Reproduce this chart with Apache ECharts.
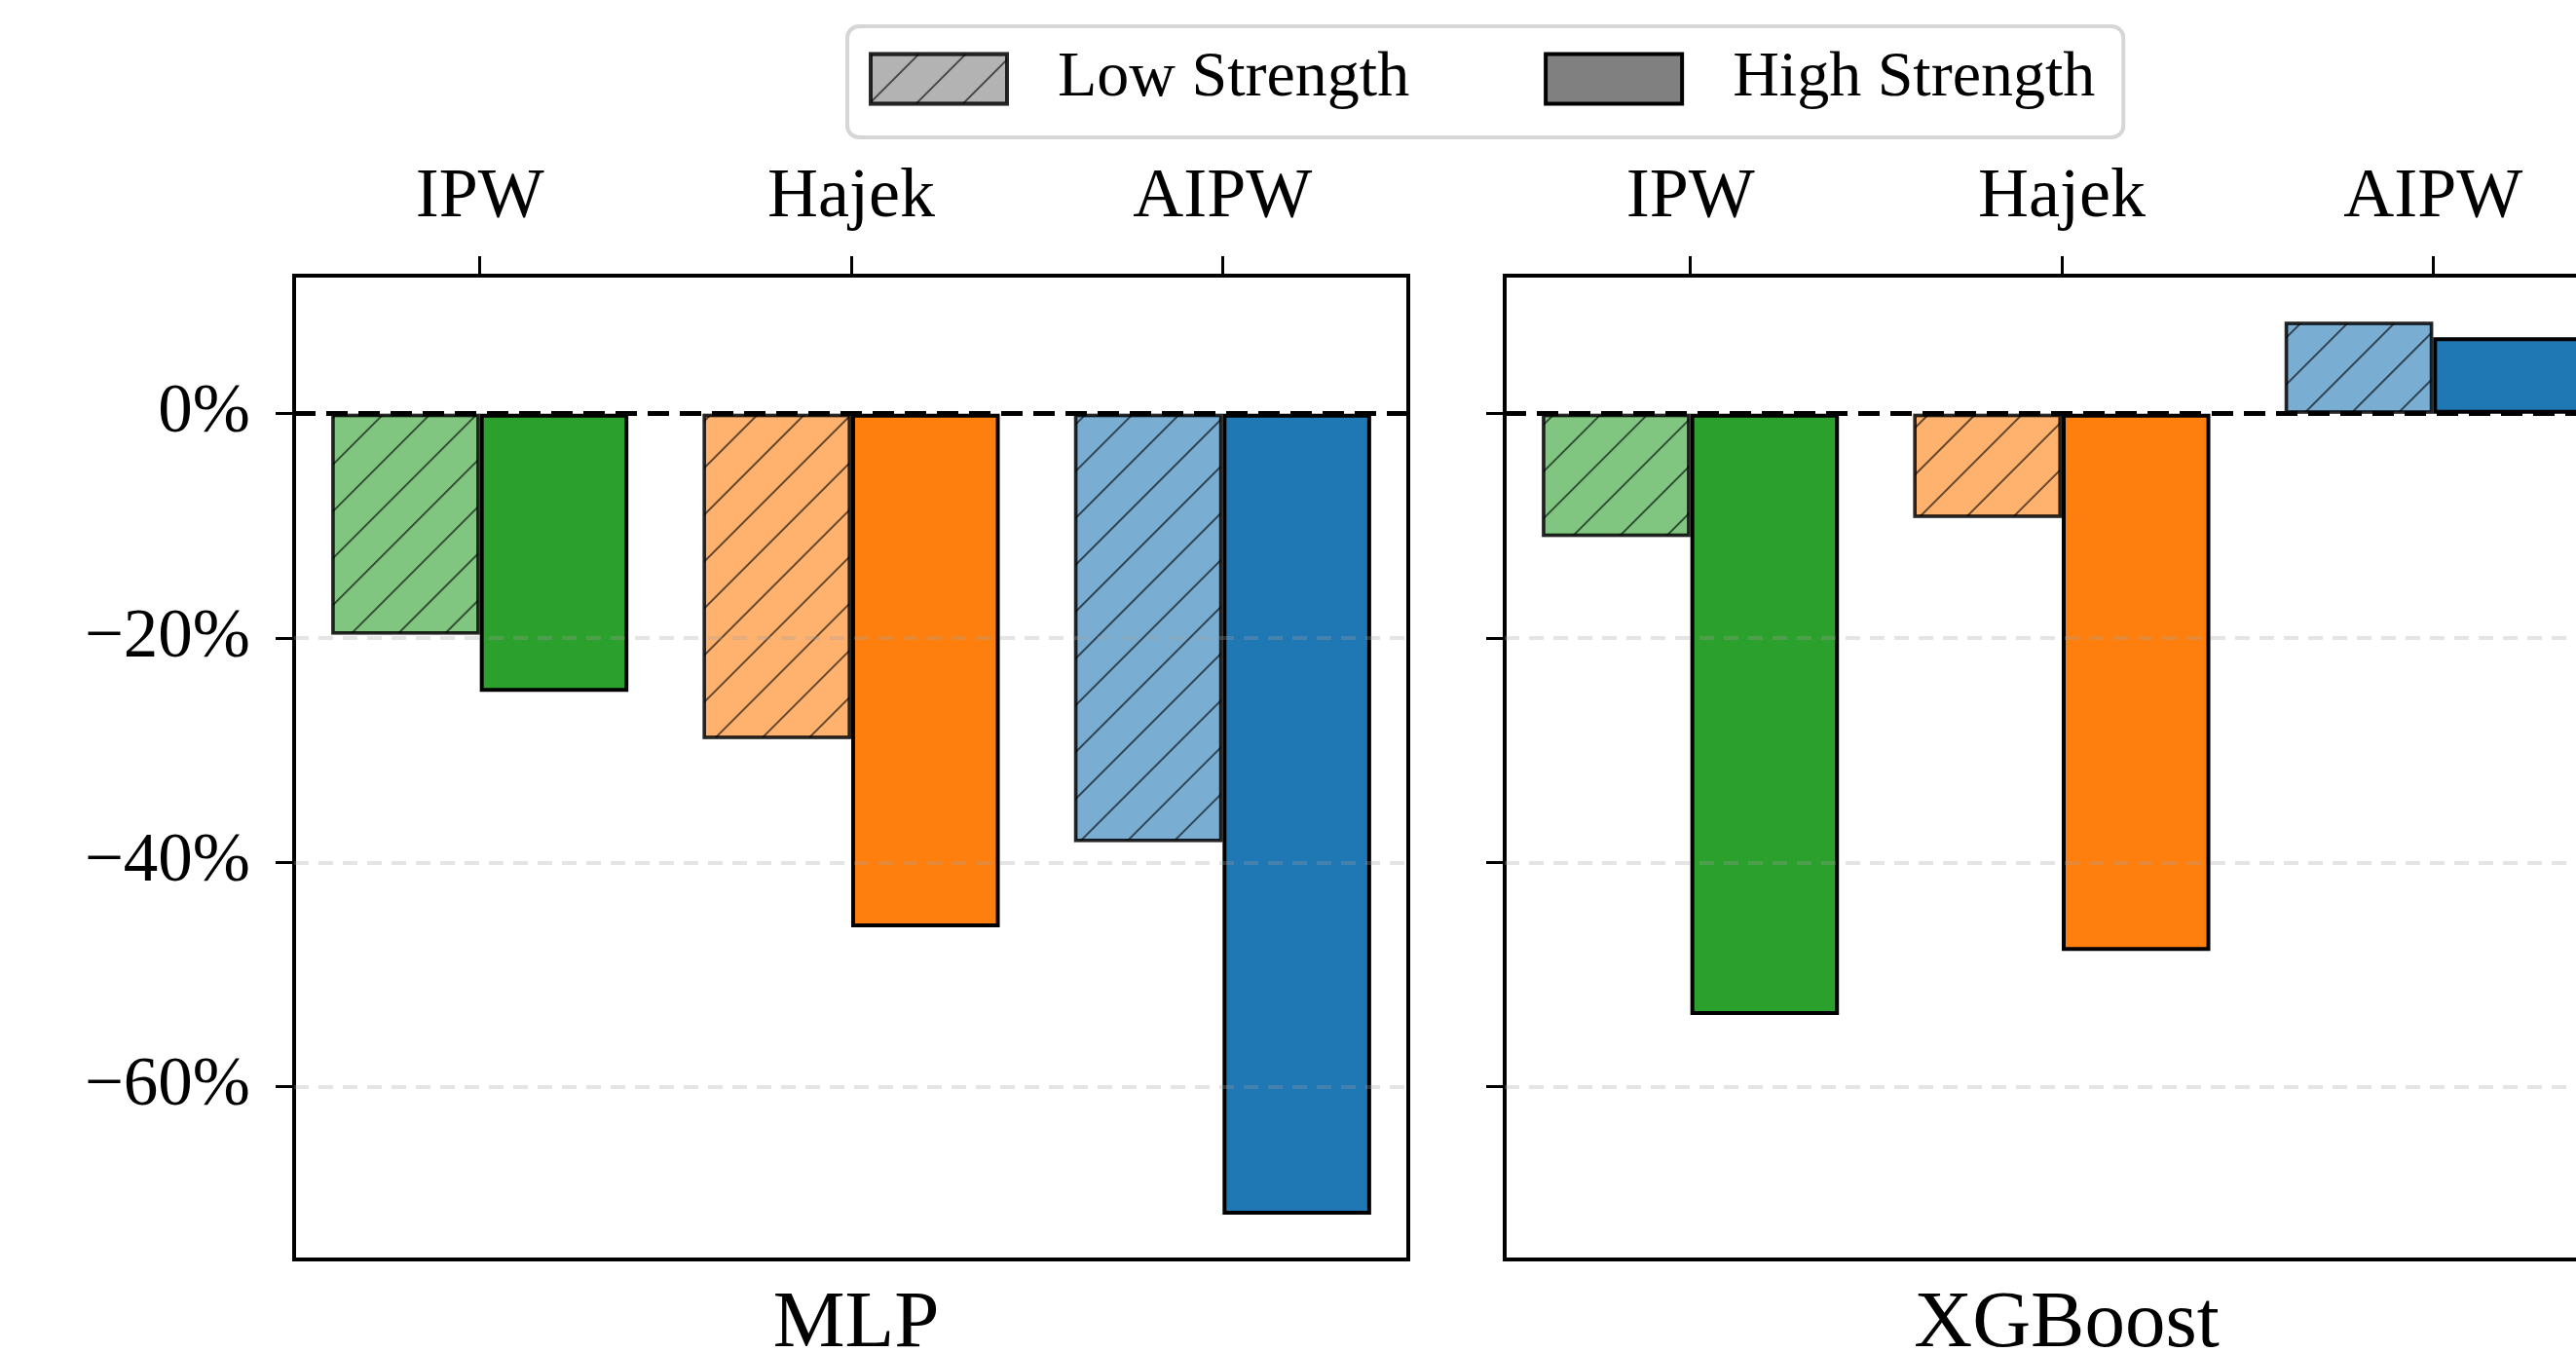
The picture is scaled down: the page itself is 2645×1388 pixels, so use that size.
<!DOCTYPE html>
<html><head><meta charset="utf-8">
<script src="https://cdn.jsdelivr.net/npm/echarts@6/dist/echarts.min.js"></script>
<style>html,body{margin:0;padding:0;background:#fff;} #c{width:2645px;height:1388px;}</style>
</head><body><div id="c"></div>
<script>
// ---- data ----
const categories = ['IPW', 'Hajek', 'AIPW'];
const models = ['MLP', 'XGBoost'];
const mlpLow = [-19.7, -29.0, -38.2];
const mlpHigh = [-24.8, -45.8, -71.4];
const xgbLow = [-11.0, -9.3, 8.2];
const xgbHigh = [-53.6, -47.9, 6.8];
const tickValues = [0, -20, -40, -60];
const tickLabels = ['0%', '−20%', '−40%', '−60%'];
const gridValues = [-20, -40, -60];
const legendNames = ['Low Strength', 'High Strength'];

// ---- style ----
const highColors = ['#2ca02c', '#ff7f0e', '#1f77b4'];
const lowColors = ['#80c680', '#ffb26e', '#79add2'];
const FONT = 'Liberation Serif';
const yMin = -75.4, yMax = 12.3;
const panels = [{left: 302}, {left: 1545}];
const PW = 1144, PTOP = 283, PH = 1010;

const hatch = {
  symbol: 'rect', symbolSize: 1,
  dashArrayX: [1, 0], dashArrayY: [2, 32],
  rotation: -Math.PI / 4,
  color: 'rgba(0,0,0,0.6)'
};

const lowSets = [mlpLow, xgbLow];
const highSets = [mlpHigh, xgbHigh];

function labelFor(v) {
  for (let i = 0; i < tickValues.length; i++) if (Math.abs(v - tickValues[i]) < 1e-6) return tickLabels[i];
  return '';
}

const series = [];
[0, 1].forEach(g => {
  series.push({
    type: 'bar', name: legendNames[0], xAxisIndex: g, yAxisIndex: g,
    barWidth: '40%', barGap: '0%',
    itemStyle: {borderColor: 'rgba(0,0,0,0.6)', borderWidth: 3.5, decal: hatch},
    data: lowSets[g].map((v, i) => ({value: v, itemStyle: {color: lowColors[i]}})),
    markLine: {
      silent: true, symbol: ['none', 'none'], label: {show: false},
      lineStyle: {color: 'rgba(160,160,160,0.28)', width: 4, type: [15, 10]},
      emphasis: {disabled: true},
      data: gridValues.map(v => ({yAxis: v}))
    }
  });
  series.push({
    type: 'bar', name: legendNames[1], xAxisIndex: g, yAxisIndex: g,
    barWidth: '40%', barGap: '0%',
    itemStyle: {borderColor: '#000', borderWidth: 4},
    data: highSets[g].map((v, i) => ({value: v, itemStyle: {color: highColors[i]}})),
    markLine: {
      silent: true, symbol: ['none', 'none'], label: {show: false},
      lineStyle: {color: '#000', width: 5, type: [22, 11]},
      emphasis: {disabled: true},
      data: [{yAxis: 0}]
    }
  });
});

const option = {
  animation: false,
  backgroundColor: '#fff',
  title: models.map((m, g) => ({
    text: m, left: panels[g].left + PW / 2, top: 1314, textAlign: 'center',
    textStyle: {fontFamily: FONT, fontSize: 83, fontWeight: 'normal', color: '#000'}
  })),
  legend: {
    left: 870, top: 27,
    padding: [21, 29, 27, 22],
    itemWidth: 140, itemHeight: 51, itemGap: 138,
    backgroundColor: '#fff', borderColor: '#d6d6d6', borderWidth: 4, borderRadius: 12,
    textStyle: {fontFamily: FONT, fontSize: 66, color: '#000', padding: [0, 0, 0, 47], lineHeight: 66},
    data: [
      {name: legendNames[0], icon: 'rect', itemStyle: {color: '#b3b3b3', borderColor: 'rgba(0,0,0,0.6)', borderWidth: 4, decal: hatch}},
      {name: legendNames[1], icon: 'rect', itemStyle: {color: '#808080', borderColor: '#000', borderWidth: 4}}
    ]
  },
  grid: panels.map(p => ({
    left: p.left, top: PTOP, width: PW, height: PH,
    show: true, borderColor: '#000', borderWidth: 4, backgroundColor: 'transparent',
    containLabel: false, outerBoundsMode: 'none'
  })),
  xAxis: [0, 1].map(g => ({
    gridIndex: g, type: 'category', data: categories, position: 'top',
    axisLine: {show: false, onZero: false},
    axisTick: {show: true, alignWithLabel: true, length: 20, lineStyle: {color: '#000', width: 3}},
    axisLabel: {fontFamily: FONT, fontSize: 72, color: '#000', margin: 44},
    splitLine: {show: false}
  })),
  yAxis: [0, 1].map(g => ({
    gridIndex: g, type: 'value', min: yMin, max: yMax,
    axisLine: {show: false, onZero: false},
    axisTick: {show: true, length: 19, customValues: tickValues, lineStyle: {color: '#000', width: 3}},
    axisLabel: {show: g === 0, customValues: tickValues, formatter: labelFor,
      fontFamily: FONT, fontSize: 71, color: '#000', margin: 45},
    splitLine: {show: false}
  })),
  series: series
};

const chart = echarts.init(document.getElementById('c'), null, {renderer: 'canvas'});
chart.setOption(option);
</script>
</body></html>
